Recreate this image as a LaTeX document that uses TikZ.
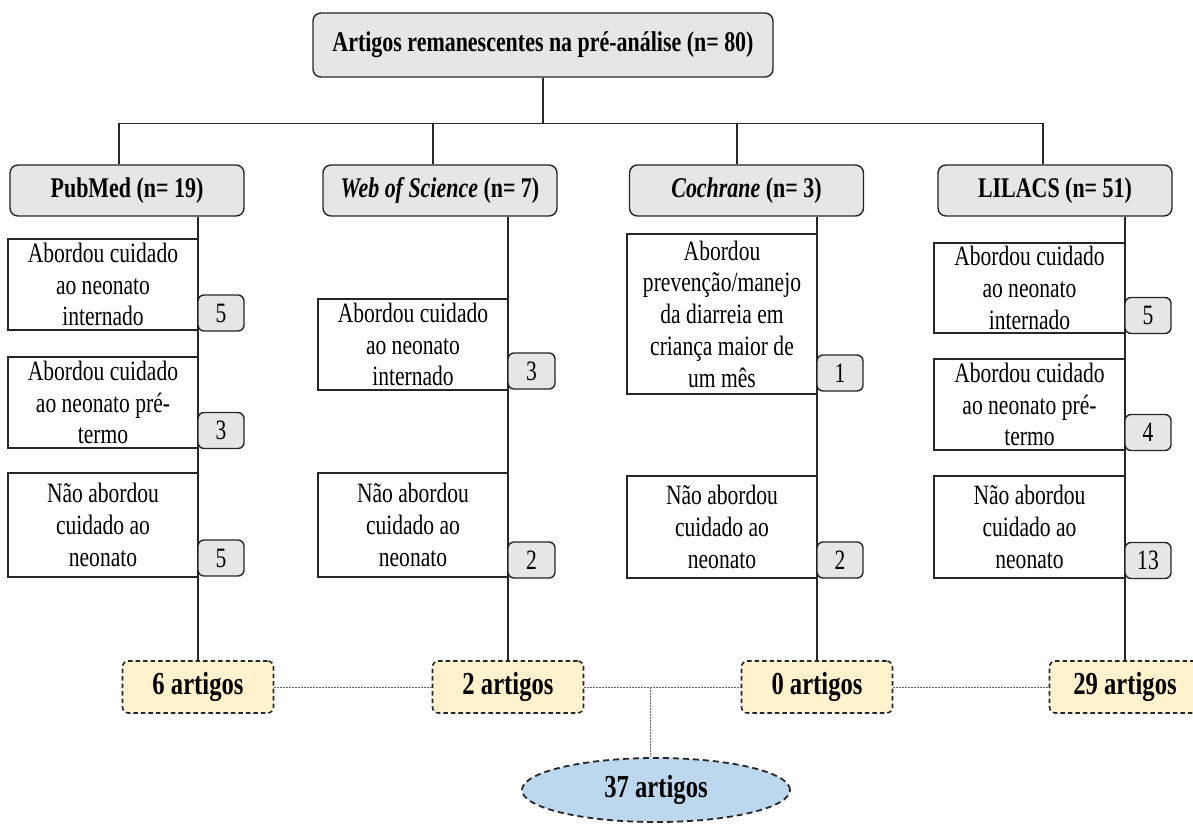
\documentclass[tikz,border=0pt]{standalone}
\usepackage{fontspec}
\setmainfont{Liberation Serif}[FakeStretch=0.77]
\usetikzlibrary{shapes.geometric}
\definecolor{hdrgray}{HTML}{E7E6E6}
\definecolor{resyellow}{HTML}{FFF2CC}
\definecolor{ellblue}{HTML}{BDD7EE}
\definecolor{linecol}{HTML}{262626}
\begin{document}
\begin{tikzpicture}[x=1pt,y=-1pt,
  conn/.style={draw=linecol, line width=1.3pt},
  hdr/.style={draw=linecol, line width=1.4pt, fill=hdrgray, rounded corners=8pt, inner sep=0pt,
    minimum width=234pt, minimum height=51pt, font=\fontsize{28.5}{32}\selectfont\bfseries},
  sub/.style={draw=linecol, line width=1.4pt, fill=white, inner sep=0pt, align=center,
    minimum width=190pt, font=\fontsize{28}{31.75}\selectfont},
  num/.style={draw=linecol, line width=1.4pt, fill=hdrgray, rounded corners=6pt, inner sep=0pt,
    minimum width=46pt, minimum height=36pt, font=\fontsize{28}{32}\selectfont},
  res/.style={draw=linecol, line width=1.6pt, dash pattern=on 4.5pt off 3pt, fill=resyellow,
    rounded corners=6pt, minimum width=151pt, minimum height=52pt, inner sep=0pt,
    font=\fontsize{32}{36}\selectfont\bfseries},
  dotline/.style={draw=black!60, line width=0.9pt, dash pattern=on 1.5pt off 1.5pt},
  ell/.style={ellipse, draw=linecol, line width=1.8pt, dash pattern=on 6pt off 4pt, fill=ellblue,
    minimum width=268pt, minimum height=64pt, inner sep=0pt, font=\fontsize{32}{36}\selectfont\bfseries}
]
\useasboundingbox (0,0) rectangle (1193,825);

% top
\node[hdr, minimum width=460pt, minimum height=64pt] (top) at (543,45) {Artigos remanescentes na pré-análise (n= 80)};

% headers
\node[hdr] (pub) at (127,190.5) {PubMed (n= 19)};
\node[hdr] (wos) at (440,190.5) {\textit{Web of Science} (n= 7)};
\node[hdr] (coc) at (746.5,190.5) {\textit{Cochrane} (n= 3)};
\node[hdr] (lil) at (1055,190.5) {LILACS (n= 51)};

% tree connectors
\coordinate (bus) at (543,124);
\draw[conn] (top.south) -- (bus);
\draw[conn] ([xshift=-8pt]pub.north) -- ++(0,-41) -| ([xshift=-12pt]lil.north);
\draw[conn] ([xshift=-7pt]wos.north) -- ++(0,-41);
\draw[conn] ([xshift=-9.5pt]coc.north) -- ++(0,-41);

% result boxes
\node[res] (r1) at (198,687) {6 artigos};
\node[res] (r2) at (508,687) {2 artigos};
\node[res] (r3) at (817,687) {0 artigos};
\node[res] (r4) at (1125,687) {29 artigos};

% spines
\draw[conn] (r1.north |- pub.south) -- (r1.north);
\draw[conn] (r2.north |- wos.south) -- (r2.north);
\draw[conn] (r3.north |- coc.south) -- (r3.north);
\draw[conn] (r4.north |- lil.south) -- (r4.north);

% PubMed
\node[sub, minimum height=91pt] (p1) at (103,284.5) {Abordou cuidado\\ao neonato\\internado};
\node[num] (pn1) at (221,313) {5};
\node[sub, minimum height=91pt] (p2) at (103,402.5) {Abordou cuidado\\ao neonato pré-\\termo};
\node[num] (pn2) at (221,430.5) {3};
\node[sub, minimum height=104pt] (p3) at (103,525) {Não abordou\\cuidado ao\\neonato};
\node[num] (pn3) at (221,558) {5};

% Web of Science
\node[sub, minimum height=91pt] (w1) at (413,344.5) {Abordou cuidado\\ao neonato\\internado};
\node[num, minimum width=47pt] (wn1) at (531.5,371) {3};
\node[sub, minimum height=104pt] (w2) at (413,525) {Não abordou\\cuidado ao\\neonato};
\node[num, minimum width=47pt] (wn2) at (531.5,560) {2};

% Cochrane
\node[sub, minimum height=160pt] (c1) at (722,314) {Abordou\\prevenção/manejo\\da diarreia em\\criança maior de\\um mês};
\node[num] (cn1) at (840,373) {1};
\node[sub, minimum height=102pt] (c2) at (722,527) {Não abordou\\cuidado ao\\neonato};
\node[num] (cn2) at (840,560) {2};

% LILACS
\node[sub, minimum width=191pt, minimum height=90pt] (l1) at (1029.5,288) {Abordou cuidado\\ao neonato\\internado};
\node[num] (ln1) at (1148,315.5) {5};
\node[sub, minimum width=191pt, minimum height=91pt] (l2) at (1029.5,404.5) {Abordou cuidado\\ao neonato pré-\\termo};
\node[num] (ln2) at (1148,432.5) {4};
\node[sub, minimum width=191pt, minimum height=102pt] (l3) at (1029.5,527) {Não abordou\\cuidado ao\\neonato};
\node[num] (ln3) at (1148,560.5) {13};

% final
\node[ell] (fin) at (656,790) {37 artigos};
\draw[dotline] (r1.east) -- (r2.west);
\draw[dotline] (r2.east) -- (r3.west);
\draw[dotline] (r3.east) -- (r4.west);
\coordinate (mid) at (650,687);
\draw[dotline] (mid) -- (mid |- fin.north);
\end{tikzpicture}
\end{document}
